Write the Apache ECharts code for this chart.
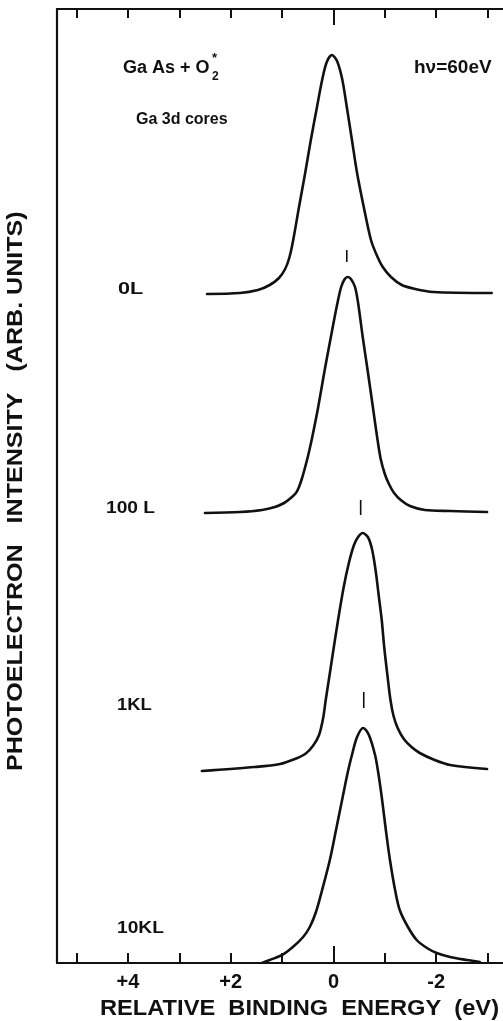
<!DOCTYPE html>
<html>
<head>
<meta charset="utf-8">
<script src="https://cdn.jsdelivr.net/npm/echarts@6/dist/echarts.min.js"></script>
<style>
  html, body { margin: 0; padding: 0; background: #fff; }
  #chart { width: 503px; height: 1021px; }
</style>
</head>
<body>
<div id="chart"></div>
<script>
// Relative binding energy axis (eV); plotted reversed, positive values on the left
const energyMin = -3.3;
const energyMax = 5.38;
const energyTicks = [5, 4, 3, 2, 1, 0, -1, -2, -3];
const energyLabels = [4, 2, 0, -2];

// Ga 3d core spectra (intensity in arbitrary units, stacked with offsets)
const exposures = ['0L', '100 L', '1KL', '10KL'];

const e0L = [2.46, 1.82, 1.47, 1.24, 1.06, 0.94, 0.86, 0.79, 0.67, 0.55, 0.44, 0.32, 0.22, 0.13, 0.03, -0.07, -0.17, -0.26, -0.36, -0.46, -0.59, -0.73, -0.85, -0.96, -1.12, -1.33, -1.59, -1.94, -3.08];
const i0L = [669, 670, 673, 678, 685, 694, 705, 721, 756, 790, 823, 856, 883, 901, 908, 902, 884, 856, 823, 790, 756, 723, 707, 696, 686, 678, 674, 671, 670];

const e100L = [2.50, 1.82, 1.39, 1.14, 0.96, 0.83, 0.73, 0.67, 0.61, 0.55, 0.49, 0.42, 0.30, 0.17, 0.05, -0.07, -0.15, -0.22, -0.28, -0.34, -0.42, -0.48, -0.57, -0.67, -0.77, -0.85, -0.92, -1.00, -1.08, -1.18, -1.31, -1.49, -1.78, -2.27, -2.99];
const i100L = [450, 451, 453, 456, 460, 465, 470, 476, 485, 496, 508, 524, 555, 593, 626, 658, 676, 684, 686, 684, 676, 660, 626, 591, 555, 526, 504, 489, 479, 470, 463, 457, 453, 452, 451];

const e1KL = [2.56, 1.53, 1.04, 0.75, 0.55, 0.40, 0.28, 0.20, 0.15, 0.09, 0.01, -0.09, -0.20, -0.30, -0.40, -0.48, -0.57, -0.67, -0.75, -0.82, -0.88, -0.94, -0.99, -1.05, -1.11, -1.17, -1.25, -1.37, -1.52, -1.68, -1.97, -2.27, -2.99];
const i1KL = [192, 196, 199, 204, 209, 217, 228, 245, 263, 283, 310, 343, 376, 400, 418, 426, 430, 426, 414, 393, 368, 343, 315, 288, 263, 247, 235, 224, 216, 210, 203, 198, 194];

const e10KL = [1.39, 1.24, 1.00, 0.79, 0.59, 0.46, 0.34, 0.22, 0.07, -0.05, -0.18, -0.28, -0.36, -0.46, -0.58, -0.69, -0.81, -0.87, -0.94, -1.02, -1.10, -1.20, -1.29, -1.45, -1.62, -1.82, -2.01, -2.27, -2.60, -2.85];
const i10KL = [0, 3, 8, 16, 26, 36, 51, 73, 103, 133, 166, 191, 208, 226, 235, 228, 208, 191, 166, 133, 103, 73, 53, 36, 23, 15, 10, 6, 3, 1];

// Short vertical markers above each curve: position and vertical extent
const markerE = [-0.26, -0.53, -0.59];
const markerLow = [701, 448, 255];
const markerHigh = [713, 463, 271];

const intensityMax = 954;

const curves = [
  [e0L, i0L], [e100L, i100L], [e1KL, i1KL], [e10KL, i10KL]
];

const ink = '#111';
const fontFamily = '"Liberation Sans", Arial, sans-serif';

function zip(xs, ys) {
  return xs.map((x, k) => [x, ys[k]]);
}

const series = curves.map(([xs, ys], k) => ({
  name: exposures[k],
  type: 'line',
  data: zip(xs, ys),
  showSymbol: false,
  smooth: 0.3,
  lineStyle: { color: ink, width: 2.6, join: 'round', cap: 'round' },
  silent: true,
  z: 3
}));

markerE.forEach((e, k) => {
  series.push({
    type: 'line',
    data: [[e, markerLow[k]], [e, markerHigh[k]]],
    showSymbol: false,
    lineStyle: { color: ink, width: 1.6 },
    silent: true,
    z: 3
  });
});

const baseX = {
  type: 'value',
  min: energyMin,
  max: energyMax,
  inverse: true,
  splitLine: { show: false },
  axisLabel: { show: false },
  axisLine: { show: false },
  axisTick: { show: false }
};

function label(text, x, y, size, sx) {
  return {
    type: 'text', x: x, y: y, scaleX: sx || 1,
    style: { text: text, fill: ink, font: '600 ' + size + 'px ' + fontFamily }
  };
}

const option = {
  animation: false,
  backgroundColor: '#fff',
  grid: { left: 57, right: 0, top: 9, bottom: 58, containLabel: false },
  xAxis: [
    Object.assign({}, baseX, {
      position: 'bottom',
      axisLine: { show: true, onZero: false, lineStyle: { color: ink, width: 2.2 } },
      axisTick: { show: true, inside: true, length: 10, customValues: energyTicks, lineStyle: { color: ink, width: 2 } },
      axisLabel: {
        show: true,
        customValues: energyLabels,
        margin: 9,
        color: ink,
        fontFamily: fontFamily,
        fontSize: 20,
        fontWeight: 'bold',
        formatter: v => (v > 0 ? '+' + v : (v < 0 ? '-' + Math.abs(v) : '0'))
      }
    }),
    Object.assign({}, baseX, {
      position: 'bottom',
      axisTick: { show: true, inside: true, length: 17, customValues: [0], lineStyle: { color: ink, width: 2 } }
    }),
    Object.assign({}, baseX, {
      position: 'top',
      axisLine: { show: true, onZero: false, lineStyle: { color: ink, width: 2.2 } },
      axisTick: { show: true, inside: true, length: 9, customValues: energyTicks, lineStyle: { color: ink, width: 2 } }
    }),
    Object.assign({}, baseX, {
      position: 'top',
      axisTick: { show: true, inside: true, length: 16, customValues: [0], lineStyle: { color: ink, width: 2 } }
    })
  ],
  yAxis: {
    type: 'value',
    min: 0,
    max: intensityMax,
    splitLine: { show: false },
    axisLabel: { show: false },
    axisTick: { show: false },
    axisLine: { show: true, onZero: false, lineStyle: { color: ink, width: 2.2 } }
  },
  series: series,
  graphic: [
    label('RELATIVE  BINDING  ENERGY  (eV)', 100, 998, 22, 1.075),
    Object.assign(label('PHOTOELECTRON   INTENSITY   (ARB. UNITS)', 5, 771, 22, 1.14), { rotation: Math.PI / 2 }),
    label('Ga As + O', 123, 59, 18),
    label('2', 212, 71, 12),
    label('*', 212, 52, 13),
    label('Ga 3d cores', 136, 112, 16),
    label('hν=60eV', 414, 58, 19),
    label(exposures[0], 118, 282, 16, 1.35),
    label(exposures[1], 106, 501, 16, 1.2),
    label(exposures[2], 117, 698, 16, 1.15),
    label(exposures[3], 117, 921, 16, 1.2)
  ]
};

const chart = echarts.init(document.getElementById('chart'), null, { renderer: 'canvas' });
chart.setOption(option);
</script>
</body>
</html>
